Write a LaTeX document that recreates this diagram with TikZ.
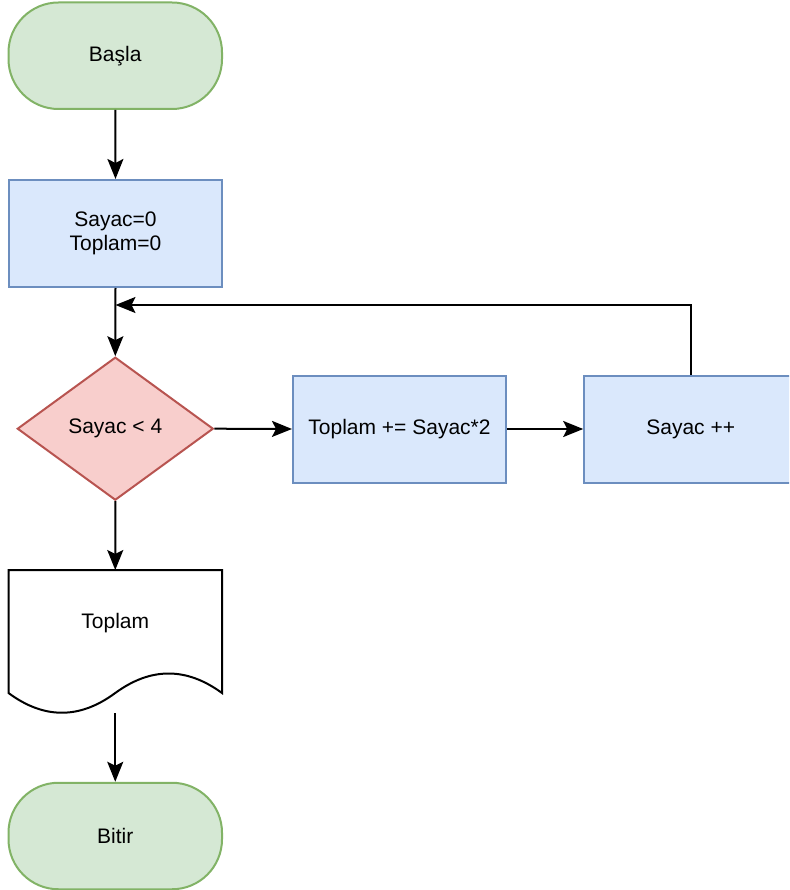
\documentclass[tikz,border=0pt]{standalone}
\usepackage{fontspec}
\setmainfont{Liberation Sans}
\usetikzlibrary{shapes.geometric,arrows.meta}
\definecolor{gfill}{HTML}{D5E8D4}
\definecolor{gdraw}{HTML}{82B366}
\definecolor{bfill}{HTML}{DAE8FC}
\definecolor{bdraw}{HTML}{6C8EBF}
\definecolor{rfill}{HTML}{F8CECC}
\definecolor{rdraw}{HTML}{B85450}
\tikzset{
  base/.style={font=\fontsize{21}{23.5}\selectfont, align=center, inner sep=0pt, line width=2pt},
  term/.style={base, draw=gdraw, fill=gfill, rounded corners=50pt, minimum width=213.5pt, minimum height=106.5pt},
  procbox/.style={base, draw=bdraw, fill=bfill, minimum width=213pt, minimum height=107pt},
  decbox/.style={base, draw=rdraw, fill=rfill, diamond, aspect=1.38, minimum width=196pt, minimum height=143pt},
  conn/.style={line width=2pt, -{Stealth[length=20pt,width=16pt,inset=4pt]}},
  plainline/.style={line width=2pt}
}
\begin{document}
\begin{tikzpicture}[x=1pt,y=-1pt]
\clip (0,0) rectangle (789,890);
\fill[white] (0,0) rectangle (789,890);
\node[term] (start) at (115.25,55.75) {Başla};
\node[procbox] (init) at (115.5,233.5) {Sayac=0\\Toplam=0};
\node[decbox] (cond) at (115.3,428.7) {Sayac < 4};
\node[procbox] (add) at (399.5,429) {Toplam += Sayac*2};
\node[procbox] (inc) at (690.7,429) {Sayac ++};
\node[term] (stop) at (115.25,836) {Bitir};
% document shape
\draw[line width=2pt, fill=white] (8.5,570) -- (222,570) -- (222,693)
  .. controls (186.4,667) and (150.85,667) .. (115.25,693)
  .. controls (79.65,719.3) and (44.1,719.3) .. (8.5,693) -- cycle;
\node[base, inner sep=0pt] (doc) at (115.25,623) {Toplam};
\coordinate (docbot) at (115.25,713);
\coordinate (doctop) at (115.25,570);
\coordinate (join) at (115.5,305);
\draw[conn] (start.south) -- (init.north);
\draw[conn] (init.south) -- (cond.north);
\draw[conn] (cond.east) -- (add.west);
\draw[conn] (add.east) -- (inc.west);
\draw[conn] (inc.north) |- (join);
\draw[conn] (cond.south) -- (doctop);
\draw[conn] (docbot) -- (stop.north);
\end{tikzpicture}
\end{document}
